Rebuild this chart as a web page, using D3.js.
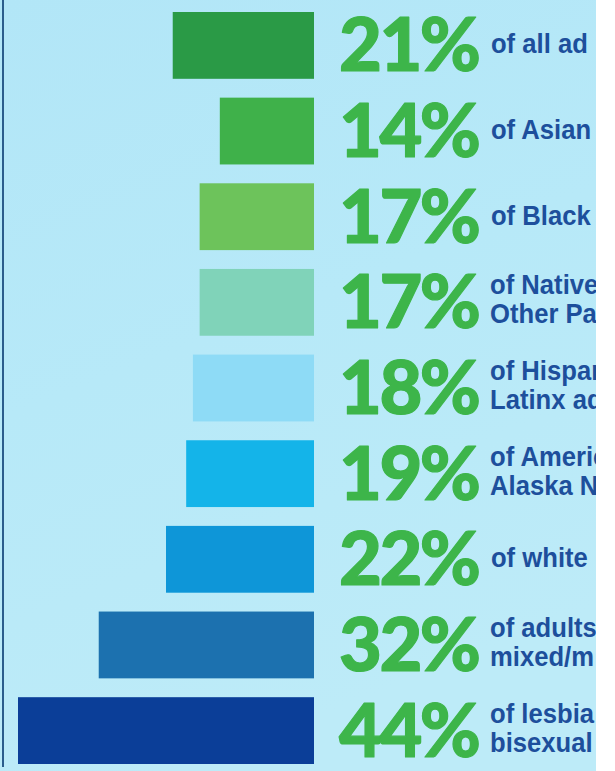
<!DOCTYPE html>
<html>
<head>
<meta charset="utf-8">
<script src="https://cdn.jsdelivr.net/npm/d3@7"></script>
<style>
  html, body { margin: 0; padding: 0; background: #ffffff; }
  svg { display: block; }
</style>
</head>
<body>
<div id="chart"></div>
<script>
// ---- data (labels as visible in the cropped reference) ----
const values = [21, 14, 17, 17, 18, 19, 22, 32, 44];
const pctLabels = ["21%", "14%", "17%", "17%", "18%", "19%", "22%", "32%", "44%"];
const line1 = ["of all ad", "of Asian", "of Black", "of Native", "of Hispan",
               "of Americ", "of white", "of adults", "of lesbia"];
const line2 = ["", "", "", "Other Pa", "Latinx ad", "Alaska Na", "", "mixed/m", "bisexual"];
const barColors = ["#2a9a46", "#3fb14a", "#6dc35b", "#80d3b9", "#8edbf6", "#14b4e9",
                   "#0e96d8", "#1c71af", "#0b3e98"];

// ---- layout ----
const W = 615, H = 771, panelW = 596;
const barRight = 314;

const svg = d3.select("#chart").append("svg")
  .attr("width", W).attr("height", H);

const defs = svg.append("defs");
const grad = defs.append("linearGradient").attr("id", "bg")
  .attr("x1", "0").attr("y1", "0").attr("x2", "0.3").attr("y2", "1");
grad.append("stop").attr("offset", "0").attr("stop-color", "#b2e6f7");
grad.append("stop").attr("offset", "0.5").attr("stop-color", "#b7e9f8");
grad.append("stop").attr("offset", "1").attr("stop-color", "#bdebf8");

svg.append("rect").attr("x", 0).attr("y", 0).attr("width", panelW).attr("height", H)
  .attr("fill", "url(#bg)");

// left rule
svg.append("rect").attr("x", 2).attr("y", 0).attr("width", 2).attr("height", 767)
  .attr("fill", "#2b5d8c");

const x = d3.scaleLinear().domain([0, 44]).range([0, 296]);
const y = d3.scaleBand().domain(d3.range(values.length))
  .range([12, 764]).paddingInner(0.22).paddingOuter(0);

svg.selectAll("rect.bar").data(values).join("rect")
  .attr("class", "bar")
  .attr("x", d => barRight - x(d))
  .attr("y", (d, i) => y(i))
  .attr("width", d => x(d))
  .attr("height", y.bandwidth())
  .attr("fill", (d, i) => barColors[i]);

svg.selectAll("text.pct").data(pctLabels).join("text")
  .attr("class", "pct")
  .attr("x", 339)
  .attr("y", (d, i) => y(i) + y.bandwidth() / 2 + 26)
  .attr("font-family", "Lato, 'Open Sans', sans-serif")
  .attr("font-weight", 900)
  .attr("font-size", 74)
  .attr("letter-spacing", -2.5)
  .attr("fill", "#3db54a")
  .attr("stroke", "#3db54a")
  .attr("stroke-width", 1.2)
  .attr("stroke-linejoin", "round")
  .text(d => d);

const sx = 0.95;
const desc = svg.selectAll("g.desc").data(values).join("g")
  .attr("class", "desc")
  .attr("transform", (d, i) => `translate(490,${y(i) + y.bandwidth() / 2}) scale(${sx},1)`);

desc.each(function(d, i) {
  const t = d3.select(this).append("text")
    .attr("font-family", "'Liberation Sans', Arial, sans-serif")
    .attr("font-weight", 700)
    .attr("font-size", 27)
    .attr("fill", "#1d4f9c");
  if (line2[i]) {
    t.append("tspan").attr("x", 0).attr("y", -8).text(line1[i]);
    t.append("tspan").attr("x", 0).attr("y", 21).text(line2[i]);
  } else {
    t.append("tspan").attr("x", 1).attr("y", 8).text(line1[i]);
  }
});

// white margin to the right of the cropped panel
svg.append("rect").attr("x", panelW).attr("y", 0).attr("width", W - panelW).attr("height", H)
  .attr("fill", "#ffffff");
</script>
</body>
</html>
